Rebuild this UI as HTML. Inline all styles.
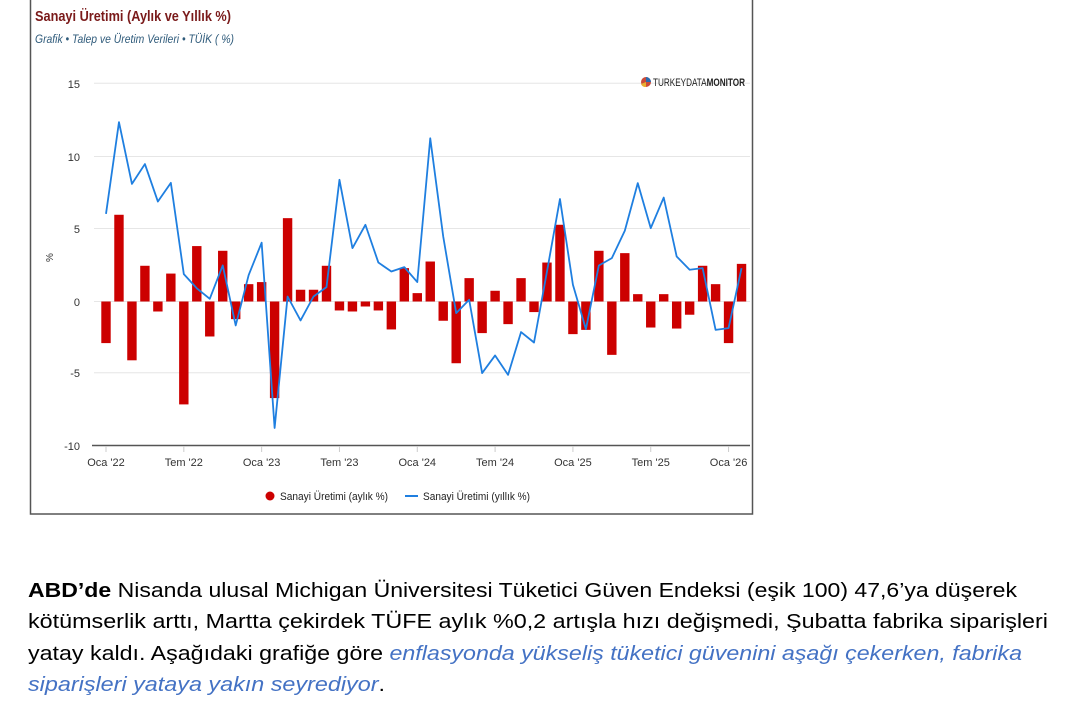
<!DOCTYPE html>
<html><head><meta charset="utf-8"><style>
body{margin:0;background:#fff;width:1065px;height:713px;overflow:hidden;font-family:"Liberation Sans",sans-serif}
svg{position:absolute;left:0;top:0}
</style></head><body>
<svg id="s" width="1065" height="713" xmlns="http://www.w3.org/2000/svg">
<rect x="30.5" y="-1" width="722" height="515" fill="#fff" stroke="#555" stroke-width="1.5"/>
<text x="35" y="21" font-size="15" font-weight="bold" fill="#7a1a1a" textLength="196" lengthAdjust="spacingAndGlyphs">Sanayi Üretimi (Aylık ve Yıllık %)</text>
<text x="35" y="43" font-size="12" font-style="italic" fill="#2e5a7a" textLength="199" lengthAdjust="spacingAndGlyphs">Grafik • Talep ve Üretim Verileri • TÜİK ( %)</text>
<g stroke="#e6e6e6" stroke-width="1">
<line x1="94" x2="750" y1="83.3" y2="83.3"/><line x1="94" x2="750" y1="156.5" y2="156.5"/><line x1="94" x2="750" y1="228.5" y2="228.5"/><line x1="94" x2="750" y1="301.5" y2="301.5"/><line x1="94" x2="750" y1="372.7" y2="372.7"/>
</g>
<line x1="92" x2="750" y1="445.5" y2="445.5" stroke="#555" stroke-width="1.5"/>
<g font-size="11" fill="#333" text-anchor="end">
<text x="80" y="88">15</text><text x="80" y="161">10</text><text x="80" y="233">5</text><text x="80" y="306">0</text><text x="80" y="377">-5</text><text x="80" y="450">-10</text>
</g>
<text x="56" y="265" font-size="10" fill="#333" transform="rotate(-90 53 265)">%</text>
<g id="bars" fill="#cc0000"></g>
<polyline id="ln" fill="none" stroke="#1f7fe0" stroke-width="1.8" stroke-linejoin="round"/>
<g id="xl" font-size="11" fill="#333" text-anchor="middle"></g>
<circle cx="646" cy="82" r="5" fill="#c94b3a"/><path d="M646 82 L646 77 A5 5 0 0 1 651 82Z" fill="#2a6cb0"/><path d="M646 82 L641 84 A5 5 0 0 0 646 87Z" fill="#e8b030"/>
<text x="653" y="86" font-size="11" fill="#222" textLength="92" lengthAdjust="spacingAndGlyphs">TURKEY<tspan>DATA</tspan><tspan font-weight="bold">MONITOR</tspan></text>
<circle cx="270" cy="496" r="4.5" fill="#cc0000"/>
<text x="280" y="500" font-size="11" fill="#222" textLength="108" lengthAdjust="spacingAndGlyphs">Sanayi Üretimi (aylık %)</text>
<line x1="405" x2="418" y1="496" y2="496" stroke="#1f7fe0" stroke-width="2"/>
<text x="423" y="500" font-size="11" fill="#222" textLength="107" lengthAdjust="spacingAndGlyphs">Sanayi Üretimi (yıllık %)</text>
<g font-size="20" fill="#000">
<text x="28" y="597" textLength="989" lengthAdjust="spacingAndGlyphs"><tspan font-weight="bold">ABD’de</tspan> Nisanda ulusal Michigan Üniversitesi Tüketici Güven Endeksi (eşik 100) 47,6’ya düşerek</text>
<text x="28" y="628" textLength="1020" lengthAdjust="spacingAndGlyphs">kötümserlik arttı, Martta çekirdek TÜFE aylık %0,2 artışla hızı değişmedi, Şubatta fabrika siparişleri</text>
<text x="28" y="660" textLength="994" lengthAdjust="spacingAndGlyphs">yatay kaldı. Aşağıdaki grafiğe göre <tspan font-style="italic" fill="#4472c4">enflasyonda yükseliş tüketici güvenini aşağı çekerken, fabrika</tspan></text>
<text x="28" y="691" textLength="357" lengthAdjust="spacingAndGlyphs"><tspan font-style="italic" fill="#4472c4">siparişleri yataya yakın seyrediyor</tspan>.</text>
</g>
</svg>
<script>
var b=[-2.83,5.9,-4.0,2.43,-0.68,1.9,-7.0,3.77,-2.38,3.45,-1.2,1.18,1.32,-6.57,5.67,0.8,0.8,2.43,-0.61,-0.68,-0.34,-0.61,-1.9,2.27,0.57,2.72,-1.31,-4.2,1.59,-2.15,0.73,-1.54,1.59,-0.72,2.65,5.22,-2.22,-1.93,3.45,-3.63,3.29,0.5,-1.77,0.5,-1.84,-0.9,2.43,1.18,-2.83,2.56];
var l=[5.96,12.2,8.0,9.35,6.8,8.07,1.86,0.9,0.18,2.45,-1.63,1.8,4.0,-8.6,0.34,-1.29,0.34,0.98,8.28,3.63,5.22,2.65,2.04,2.34,1.32,11.1,4.42,-0.79,0.12,-4.87,-3.67,-4.99,-2.08,-2.79,2.04,6.97,1.14,-1.88,2.45,2.95,4.81,8.05,4.99,7.07,3.06,2.16,2.27,-1.93,-1.81,2.27];
var Z=301.5,U=14.7,X0=106,DX=12.97,ns="http://www.w3.org/2000/svg";
var g=document.getElementById('bars'),pts=[];
b.forEach(function(v,i){var r=document.createElementNS(ns,'rect');var x=X0+i*DX;r.setAttribute('x',x-4.7);r.setAttribute('width',9.4);var y=Z-v*U;r.setAttribute('y',Math.min(y,Z));r.setAttribute('height',Math.abs(v*U));g.appendChild(r);pts.push(x+','+(Z-l[i]*U));});
document.getElementById('ln').setAttribute('points',pts.join(' '));
var lab=["Oca '22","Tem '22","Oca '23","Tem '23","Oca '24","Tem '24","Oca '25","Tem '25","Oca '26"],xl=document.getElementById('xl');
lab.forEach(function(t,i){var x=X0+i*6*DX;var tx=document.createElementNS(ns,'text');tx.setAttribute('x',x);tx.setAttribute('y',466);tx.textContent=t;xl.appendChild(tx);var tk=document.createElementNS(ns,'line');tk.setAttribute('x1',x);tk.setAttribute('x2',x);tk.setAttribute('y1',446);tk.setAttribute('y2',452);tk.setAttribute('stroke','#ccc');xl.appendChild(tk);});
</script>
</body></html>
